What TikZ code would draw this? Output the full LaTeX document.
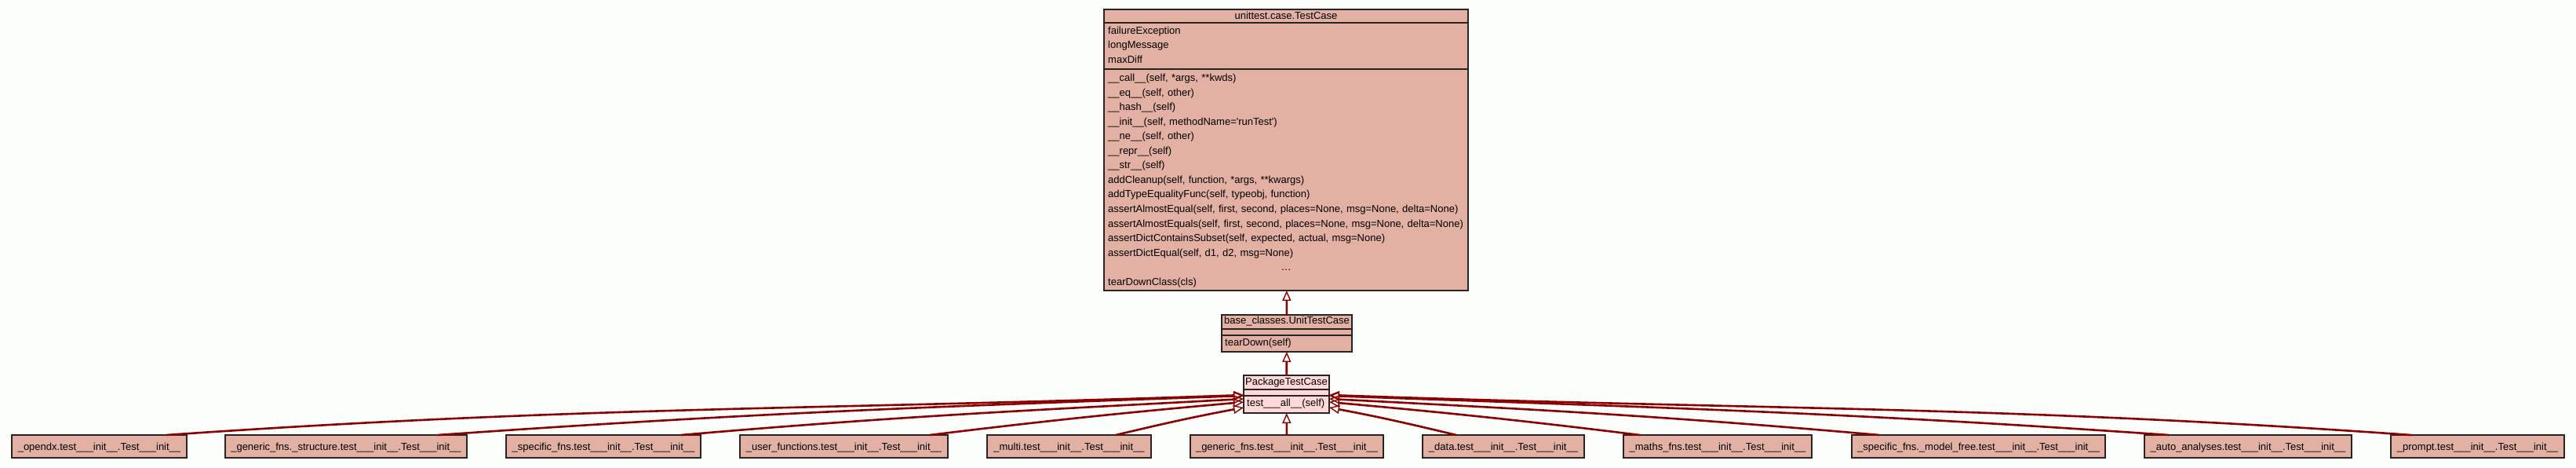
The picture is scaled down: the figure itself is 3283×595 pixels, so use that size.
\documentclass[tikz,border=0pt]{standalone}
\usepackage{fontspec}
\setmainfont{Liberation Sans}
\usepackage{tikz}
\usetikzlibrary{arrows.meta}
\usetikzlibrary{positioning}

\definecolor{umlfill}{RGB}{226,177,164}
\definecolor{umlpink}{RGB}{255,216,216}
\definecolor{umledge}{RGB}{139,0,0}
\definecolor{umlline}{RGB}{40,36,36}
\definecolor{umlback}{RGB}{252,254,252}

\newcommand{\umlfont}{\fontsize{13}{18.56}\selectfont}

\tikzset{
  classbox/.style={draw=umlline, fill=umlfill, line width=1.5pt, inner sep=0pt, outer sep=0pt},
  leafbox/.style={classbox, minimum height=29pt, text height=12pt, text depth=2pt, font=\umlfont},
  umltext/.style={inner sep=0pt, font=\umlfont, anchor=base west, align=left},
  umltitle/.style={inner sep=0pt, font=\umlfont, anchor=base},
  compart/.style={draw=umlline, line width=1.5pt},
  inherits/.style={draw=umledge, line width=2.6pt, -{Triangle[open, length=13pt, width=11pt, line width=1.4pt]}},
}

\begin{document}
\begin{tikzpicture}[x=1pt, y=1pt]
\useasboundingbox[fill=umlback] (0,0) rectangle (3283,595);

% unittest.case.TestCase
\node[classbox, minimum width=464pt, minimum height=358pt] (tc) at (1639,404) {};
\draw[compart] ([yshift=-17pt]tc.north west) -- ([yshift=-17pt]tc.north east);
\draw[compart] ([yshift=-76pt]tc.north west) -- ([yshift=-76pt]tc.north east);

\node[umltitle] (tctitle) at (1639,570.7) {unittest.case.TestCase};

\node[umltext, text width=454pt] (tcattr) at (1412,551.7)
{failureException\\longMessage\\maxDiff};

\node[umltext, text width=454pt] (tcmeth) at (1412,491.5)
{\_\_call\_\_(self, *args, **kwds)\\
\_\_eq\_\_(self, other)\\
\_\_hash\_\_(self)\\
\_\_init\_\_(self, methodName=\textquotesingle runTest\textquotesingle)\\
\_\_ne\_\_(self, other)\\
\_\_repr\_\_(self)\\
\_\_str\_\_(self)\\
addCleanup(self, function, *args, **kwargs)\\
addTypeEqualityFunc(self, typeobj, function)\\
assertAlmostEqual(self, first, second, places=None, msg=None, delta=None)\\
assertAlmostEquals(self, first, second, places=None, msg=None, delta=None)\\
assertDictContainsSubset(self, expected, actual, msg=None)\\
assertDictEqual(self, d1, d2, msg=None)\\
\makebox[\linewidth]{\ldots}\\
tearDownClass(cls)};


% base_classes.UnitTestCase
\node[classbox, minimum width=166pt, minimum height=47pt] (utc) at (1640,170.5) {};
\draw[compart] ([yshift=-18pt]utc.north west) -- ([yshift=-18pt]utc.north east);
\draw[compart] ([yshift=-26pt]utc.north west) -- ([yshift=-26pt]utc.north east);

\node[umltitle] (utctitle) at (1640,182.3) {base\_classes.UnitTestCase};
\node[umltext] (utcmeth) at (1561,155) {tearDown(self)};


% PackageTestCase
\node[classbox, fill=umlpink, minimum width=109pt, minimum height=48pt] (pkg) at (1639.5,93) {};
\draw[compart] ([yshift=-18pt]pkg.north west) -- ([yshift=-18pt]pkg.north east);
\draw[compart] ([yshift=-26pt]pkg.north west) -- ([yshift=-26pt]pkg.north east);

\node[umltitle] (pkgtitle) at (1639.5,105) {PackageTestCase};
\node[umltext] (pkgmeth) at (1589,77.3) {test\_\_\_all\_\_(self)};


% test classes
\node[leafbox, minimum width=223pt] (b1) at (126.5,26.5) {\_opendx.test\_\_\_init\_\_.Test\_\_\_init\_\_};
\node[leafbox, minimum width=308pt] (b2) at (441,26.5) {\_generic\_fns.\_structure.test\_\_\_init\_\_.Test\_\_\_init\_\_};
\node[leafbox, minimum width=248pt] (b3) at (769,26.5) {\_specific\_fns.test\_\_\_init\_\_.Test\_\_\_init\_\_};
\node[leafbox, minimum width=265pt] (b4) at (1075.5,26.5) {\_user\_functions.test\_\_\_init\_\_.Test\_\_\_init\_\_};
\node[leafbox, minimum width=209pt] (b5) at (1362.5,26.5) {\_multi.test\_\_\_init\_\_.Test\_\_\_init\_\_};
\node[leafbox, minimum width=246pt] (b6) at (1640,26.5) {\_generic\_fns.test\_\_\_init\_\_.Test\_\_\_init\_\_};
\node[leafbox, minimum width=206pt] (b7) at (1916,26.5) {\_data.test\_\_\_init\_\_.Test\_\_\_init\_\_};
\node[leafbox, minimum width=240pt] (b8) at (2189,26.5) {\_maths\_fns.test\_\_\_init\_\_.Test\_\_\_init\_\_};
\node[leafbox, minimum width=323pt] (b9) at (2521.5,26.5) {\_specific\_fns.\_model\_free.test\_\_\_init\_\_.Test\_\_\_init\_\_};
\node[leafbox, minimum width=264pt] (b10) at (2865,26.5) {\_auto\_analyses.test\_\_\_init\_\_.Test\_\_\_init\_\_};
\node[leafbox, minimum width=221pt] (b11) at (3157.5,26.5) {\_prompt.test\_\_\_init\_\_.Test\_\_\_init\_\_};


% inheritance
\draw[inherits] (utc) -- (tc);
\draw[inherits] (pkg) -- (utc);
\draw[inherits] (b6) -- (pkg);

\draw[inherits] ([xshift=85.5pt]b1.north) .. controls +(535,37) and +(-536,-19) .. ([yshift=-1pt]pkg.west);
\draw[inherits] ([xshift=117pt]b2.north) .. controls +(400,28) and +(-401,-14) .. ([yshift=-2pt]pkg.west);
\draw[inherits] ([xshift=99pt]b3.north) .. controls +(279,24) and +(-280,-15) .. ([yshift=-6pt]pkg.west);
\draw[inherits] ([xshift=109.5pt]b4.north) .. controls +(156,19) and +(-156,-14) .. ([yshift=-10pt]pkg.west);
\draw[inherits] ([xshift=59.5pt]b5.north) .. controls +(63,15) and +(-64,-12) .. ([yshift=-17pt]pkg.west);

\draw[inherits] ([xshift=-60pt]b7.north) .. controls +(-63,15) and +(64,-12) .. ([yshift=-17pt]pkg.east);
\draw[inherits] ([xshift=-99pt]b8.north) .. controls +(-154,19) and +(154,-14) .. ([yshift=-10pt]pkg.east);
\draw[inherits] ([xshift=-126.5pt]b9.north) .. controls +(-273,24) and +(274,-14) .. ([yshift=-6pt]pkg.east);
\draw[inherits] ([xshift=-101pt]b10.north) .. controls +(-417,29) and +(418,-15) .. ([yshift=-2pt]pkg.east);
\draw[inherits] ([xshift=-84.5pt]b11.north) .. controls +(-537,38) and +(538,-19) .. ([yshift=-1pt]pkg.east);

\end{tikzpicture}
\end{document}
